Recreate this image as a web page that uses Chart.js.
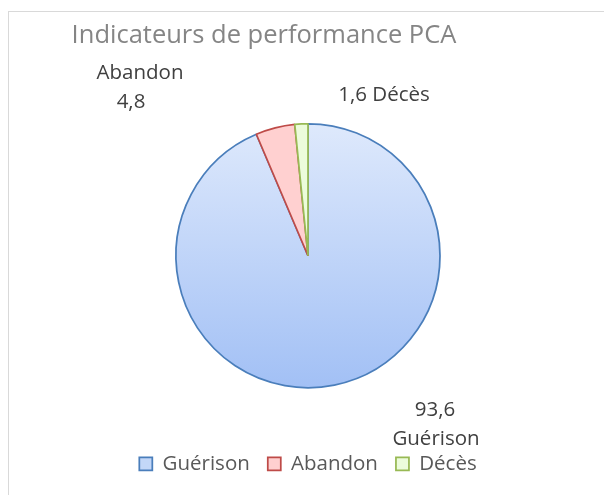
<!DOCTYPE html>
<html>
<head>
<meta charset="utf-8">
<script src="https://cdn.jsdelivr.net/npm/chart.js@4"></script>
<style>
  body { margin: 0; background: #fff; }
  #wrap { position: relative; width: 604px; height: 495px; }
  #frame { position: absolute; left: 8px; top: 11px; right: -2px; bottom: -2px; border-left: 1px solid #d9d9d9; border-top: 1px solid #d9d9d9; }
  canvas { position: absolute; left: 0; top: 0; }
</style>
</head>
<body>
<div id="wrap">
  <div id="frame"></div>
  <canvas id="pieChart" width="604" height="495"></canvas>
</div>
<script>
const chartTitle = 'Indicateurs de performance PCA';
const categories = ['Guérison', 'Abandon', 'Décès'];
const values = [93.6, 4.8, 1.6];

const fills = ['#c3d7f8', '#ffd0d0', '#ecfcdb'];
const borders = ['#4a7ebb', '#be4b48', '#98b954'];

// label placement relative to the pie centre (baseline of each line)
const labelSpots = [
    [{ text: v => v, dx: 127, dy: 160 }, { text: () => 'Guérison', dx: 128, dy: 189 }],
    [{ text: () => 'Abandon', dx: -168, dy: -177 }, { text: v => v, dx: -177, dy: -148 }],
    [{ text: v => v + ' Décès', dx: 76, dy: -155 }]
];

const fmt = v => String(v).replace('.', ',');

const piePainter = {
    id: 'piePainter',
    beforeDatasetsDraw(chart) {
        // vertical gradient on the big slice, like the Excel original
        const arc = chart.getDatasetMeta(0).data[0];
        const g = chart.ctx.createLinearGradient(0, arc.y - arc.outerRadius, 0, arc.y + arc.outerRadius);
        g.addColorStop(0, '#dee9fc');
        g.addColorStop(1, '#a2c0f5');
        arc.options.backgroundColor = g;
    },
    afterDatasetsDraw(chart) {
        const ctx = chart.ctx;
        const meta = chart.getDatasetMeta(0);
        ctx.save();
        ctx.font = '20.5px "Open Sans"';
        ctx.fillStyle = '#404040';
        ctx.textAlign = 'center';
        ctx.textBaseline = 'alphabetic';
        meta.data.forEach((arc, i) => {
            const v = fmt(chart.data.datasets[0].data[i]);
            labelSpots[i].forEach(s => {
                ctx.fillText(s.text(v), arc.x + s.dx, arc.y + s.dy);
            });
        });
        // title
        ctx.font = '25.5px "Open Sans"';
        ctx.fillStyle = '#858585';
        ctx.fillText(chartTitle, 264, 43);
        ctx.restore();
    }
};

new Chart(document.getElementById('pieChart'), {
    type: 'pie',
    data: {
        labels: categories,
        datasets: [{
            data: values,
            backgroundColor: fills,
            borderColor: borders,
            borderWidth: 1.75,
            radius: 132
        }]
    },
    options: {
        responsive: false,
        animation: false,
        events: [],
        layout: { padding: { left: 12, right: 0, top: 76, bottom: 11 } },
        plugins: {
            title: { display: false },
            tooltip: { enabled: false },
            legend: {
                position: 'bottom',
                labels: {
                    boxWidth: 13,
                    boxHeight: 13,
                    padding: 18,
                    color: '#595959',
                    font: { family: 'Open Sans', size: 20.5 }
                }
            }
        }
    },
    plugins: [piePainter]
});
</script>
</body>
</html>
